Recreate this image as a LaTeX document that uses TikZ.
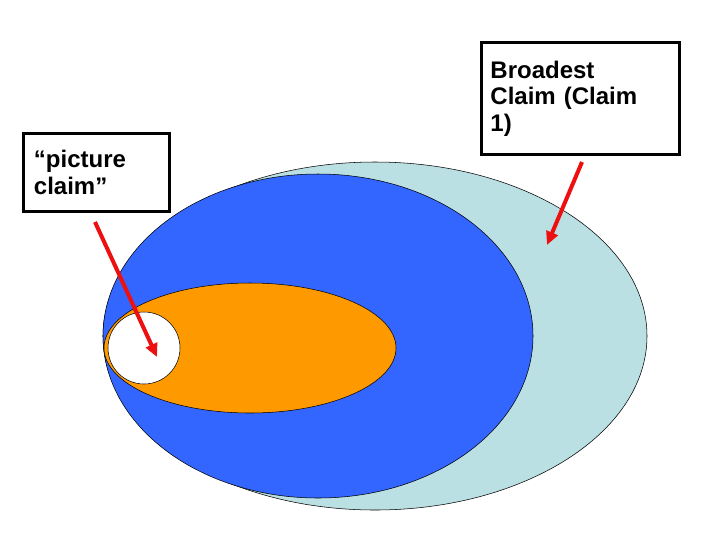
\documentclass[tikz,border=0pt]{standalone}
\usepackage{fontspec}
\setmainfont{Liberation Sans}
\usetikzlibrary{arrows.meta}
\begin{document}
\begin{tikzpicture}[x=0.75pt,y=-0.75pt,
  lbl/.style={draw=black,line width=2.2pt,fill=white,align=left,font=\bfseries\fontsize{18}{20}\selectfont,inner sep=5pt,anchor=north west},
  redarrow/.style={draw={rgb,255:red,238;green,16;blue,16},line width=3pt,-{Triangle[length=10pt,width=9pt]}}]
\useasboundingbox (0,0) rectangle (720,540);
\fill[white] (0,0) rectangle (720,540);
\draw[fill={rgb,255:red,187;green,224;blue,227}] (375,336) ellipse [x radius=272, y radius=174];
\draw[fill={rgb,255:red,51;green,102;blue,255}] (318,336) ellipse [x radius=215, y radius=162];
\draw[fill={rgb,255:red,255;green,153;blue,0}] (250,348) ellipse [x radius=146, y radius=65];
\draw[fill=white] (144,348) circle [radius=36];
\node[lbl,minimum width=146*0.75pt,minimum height=78*0.75pt,text width=125*0.75pt] (pc) at (22,132) {“picture\\claim”};
\node[lbl,minimum width=198*0.75pt,minimum height=112*0.75pt,text width=180*0.75pt] (bc) at (480,41) {Broadest\\Claim (Claim\\1)};
\coordinate (a1s) at (95,222); \coordinate (a1e) at (157,357);
\coordinate (a2s) at (582,162); \coordinate (a2e) at (547,245);
\draw[redarrow] (a1s) -- (a1e);
\draw[redarrow] (a2s) -- (a2e);
\end{tikzpicture}
\end{document}
